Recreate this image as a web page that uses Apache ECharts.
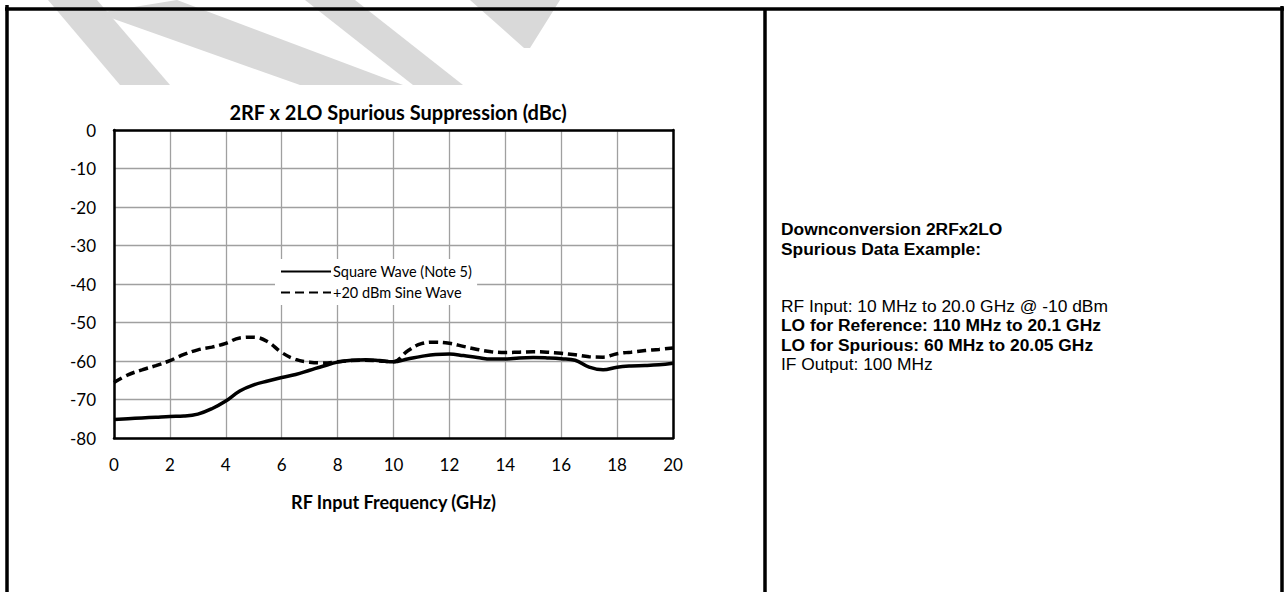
<!DOCTYPE html>
<html>
<head>
<meta charset="utf-8">
<script src="https://cdn.jsdelivr.net/npm/echarts@6/dist/echarts.min.js"></script>
<style>
  html, body { margin: 0; padding: 0; background: #fff; }
  #chart { width: 1285px; height: 592px; }
</style>
</head>
<body>
<div id="chart"></div>
<script>
// RF input frequency (GHz), every 0.5 GHz
const freq = [0, 0.5, 1, 1.5, 2, 2.5, 3, 3.5, 4, 4.5, 5, 5.5, 6, 6.5, 7, 7.5, 8, 8.5, 9, 9.5, 10,
  10.5, 11, 11.5, 12, 12.5, 13, 13.5, 14, 14.5, 15, 15.5, 16, 16.5, 17, 17.5, 18, 18.5, 19, 19.5, 20]
// spurious suppression (dBc)
const squareWave = [-75.2, -75.0, -74.8, -74.6, -74.4, -74.3, -73.8, -72.4, -70.4, -67.8, -66.2, -65.2, -64.3, -63.5, -62.4, -61.3, -60.3, -59.8, -59.7, -59.9, -60.2,
  -59.5, -58.8, -58.3, -58.2, -58.6, -59.1, -59.5, -59.5, -59.2, -59.1, -59.2, -59.4, -59.8, -61.6, -62.3, -61.6, -61.3, -61.2, -61.0, -60.6]
const sineWave = [-65.6, -63.6, -62.3, -61.2, -59.9, -58.3, -57.1, -56.4, -55.4, -54.0, -53.8, -55.0, -57.8, -59.6, -60.3, -60.5, -60.2, -59.9, -59.8, -60.0, -60.2,
  -57.4, -55.5, -55.1, -55.4, -56.2, -57.0, -57.6, -57.8, -57.7, -57.6, -57.7, -58.0, -58.4, -58.9, -59.0, -58.1, -57.7, -57.3, -57.0, -56.6]
const seriesNames = ['Square Wave (Note 5)', '+20 dBm Sine Wave']
const xTicks = { min: 0, max: 20, step: 2 }
const yTicks = { min: -80, max: 0, step: 10 }
const infoTitle = ['Downconversion 2RFx2LO', 'Spurious Data Example:']
const infoBody = [
  { text: 'RF Input: 10 MHz to 20.0 GHz @ -10 dBm', bold: false },
  { text: 'LO for Reference: 110 MHz to 20.1 GHz', bold: true },
  { text: 'LO for Spurious: 60 MHz to 20.05 GHz', bold: true },
  { text: 'IF Output: 100 MHz', bold: false },
]

const chartFont = 'Lato, "Open Sans", sans-serif'
const gray = '#d9d9d9'

const chart = echarts.init(document.getElementById('chart'), null, { renderer: 'svg' })

const pairs = (ys) => freq.map((f, i) => [f, ys[i]])

// watermark shapes + table borders
const watermark = [
  [[48, 0], [97, 0], [170, 85], [120, 85]],
  [[97, 13], [177, 0], [403, 85], [300, 85]],
  [[305, 0], [355, 0], [463, 85], [413, 85]],
  [[470, 0], [560, 0], [530, 48], [524, 48]],
].map((points) => ({
  type: 'polygon',
  shape: { points },
  style: { fill: gray },
  z: -10,
  silent: true,
}))

const borders = [
  [5, 9, 1284, 9],
  [7, 5, 7, 592],
  [765, 9, 765, 592],
  [1282, 6, 1282, 592],
].map(([x1, y1, x2, y2]) => ({
  type: 'line',
  shape: { x1, y1, x2, y2 },
  style: { stroke: '#000', lineWidth: 3.5 },
  silent: true,
}))

const infoText = (text, bold, y) => ({
  type: 'text',
  x: 781,
  y,
  style: {
    text,
    font: (bold ? 'bold ' : '') + '17.4px "Liberation Sans", Arial, sans-serif',
    fill: '#000',
    textVerticalAlign: 'middle',
  },
  silent: true,
})

const info = [
  ...infoTitle.map((t, i) => infoText(t, true, 229 + i * 19.6)),
  ...infoBody.map((l, i) => infoText(l.text, l.bold, 305.5 + i * 19.6)),
]

chart.setOption({
  animation: false,
  title: {
    text: '2RF x 2LO Spurious Suppression (dBc)',
    left: 393,
    top: 97,
    textAlign: 'center',
    textStyle: { fontFamily: chartFont, fontSize: 20, fontWeight: 'bold', color: '#000' },
  },
  legend: {
    data: seriesNames,
    orient: 'vertical',
    left: 275,
    top: 259,
    padding: [5, 5],
    itemWidth: 50,
    itemHeight: 14,
    itemGap: 6,
    backgroundColor: '#fff',
    itemStyle: { color: 'transparent', borderColor: 'transparent', borderWidth: 0 },
    textStyle: { fontFamily: chartFont, fontSize: 14.5, color: '#000', padding: [0, 0, 0, -3] },
  },
  grid: {
    left: 114,
    top: 130,
    width: 559,
    height: 308,
  },
  xAxis: [
    {
      type: 'value',
      min: xTicks.min,
      max: xTicks.max,
      interval: xTicks.step,
      name: 'RF Input Frequency (GHz)',
      nameLocation: 'middle',
      nameGap: 55,
      nameTextStyle: { fontFamily: chartFont, fontSize: 18, fontWeight: 'bold', color: '#000' },
      axisLine: { onZero: false, lineStyle: { color: '#000', width: 2.5 } },
      axisTick: { show: false },
      axisLabel: { fontFamily: chartFont, fontSize: 17, color: '#000', margin: 18 },
      splitLine: { lineStyle: { color: '#a0a0a0', width: 1.3 } },
    },
    {
      type: 'value',
      position: 'top',
      min: xTicks.min,
      max: xTicks.max,
      axisLine: { onZero: false, lineStyle: { color: '#000', width: 2.5 } },
      axisTick: { show: false },
      axisLabel: { show: false },
      splitLine: { show: false },
    },
  ],
  yAxis: [
    {
      type: 'value',
      min: yTicks.min,
      max: yTicks.max,
      interval: yTicks.step,
      axisLine: { show: true, onZero: false, lineStyle: { color: '#000', width: 2.5 } },
      axisTick: { show: false },
      axisLabel: { fontFamily: chartFont, fontSize: 17, color: '#000', margin: 18 },
      splitLine: { lineStyle: { color: '#a0a0a0', width: 1.3 } },
    },
    {
      type: 'value',
      position: 'right',
      min: yTicks.min,
      max: yTicks.max,
      axisLine: { show: true, onZero: false, lineStyle: { color: '#000', width: 2.5 } },
      axisTick: { show: false },
      axisLabel: { show: false },
      splitLine: { show: false },
    },
  ],
  series: [
    {
      name: seriesNames[0],
      type: 'line',
      data: pairs(squareWave),
      smooth: 0.4,
      symbol: 'none',
      lineStyle: { color: '#000', width: 3.5 },
      itemStyle: { color: '#000' },
      z: 3,
    },
    {
      name: seriesNames[1],
      type: 'line',
      data: pairs(sineWave),
      smooth: 0.4,
      symbol: 'none',
      lineStyle: { color: '#000', width: 3.5, type: [9, 5] },
      itemStyle: { color: '#000' },
      z: 3,
    },
  ],
  graphic: [...watermark, ...borders, ...info],
})

window.addEventListener('resize', () => chart.resize())
</script>
</body>
</html>
